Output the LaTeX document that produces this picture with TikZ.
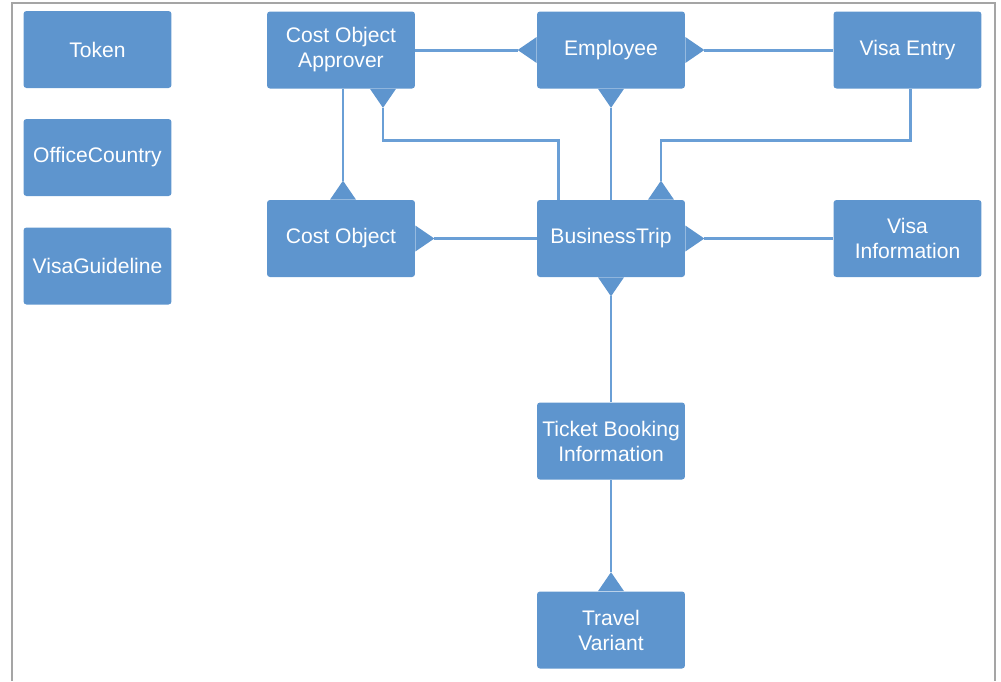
\documentclass[tikz,border=0pt]{standalone}
\usepackage{fontspec}
\setmainfont{Liberation Sans}
\usetikzlibrary{arrows.meta}
\definecolor{boxblue}{RGB}{94,149,206}
\definecolor{lineblue}{RGB}{106,159,214}
\definecolor{framegray}{RGB}{165,165,165}
\tikzset{
  entity/.style={fill=boxblue, text=white, rounded corners=1.7pt, minimum width=2.96cm,
    minimum height=1.54cm, align=center, inner sep=0pt,
    font=\fontsize{12}{14.2}\selectfont},
  link/.style={draw=lineblue, line width=1.7pt},
  one/.tip={Triangle[reversed, width=0.52cm, length=0.38cm, line width=0pt, fill=boxblue, color=boxblue]}
}
\begin{document}
\begin{tikzpicture}[x=0.02cm, y=-0.02cm]
  \useasboundingbox (0,0) rectangle (1001,681);
  % frame
  \draw[framegray, line width=1.1pt] (12,681) -- (12,3) -- (995,3) -- (995,681);

  % loose tables
  \node[entity] (token)  at (97.5,49.5)  {Token};
  \node[entity] (office) at (97.5,157.5) {OfficeCountry};
  \node[entity] (guide)  at (97.5,266)   {VisaGuideline};

  % top row
  \node[entity] (approver)  at (341,50)   {Cost Object\\Approver};
  \node[entity] (emp)       at (611,50)   {Employee};
  \node[entity] (visaentry) at (907.5,50) {Visa Entry};

  % middle row
  \node[entity] (costobj)  at (341,238.5)   {Cost Object};
  \node[entity] (trip)     at (611,238.5)   {BusinessTrip};
  \node[entity] (visainfo) at (907.5,238.5) {Visa\\Information};

  % bottom column
  \node[entity] (ticket)  at (611,441) {Ticket Booking\\Information};
  \node[entity] (variant) at (611,630) {Travel\\Variant};

  % approver--employee--visa entry
  \draw[link, -one] (approver.east) -- (emp.west);
  \draw[link, one-] (emp.east) -- (visaentry.west);

  % employee--trip, approver--trip
  \draw[link, one-] (emp.south) -- (trip.north);
  \draw[link, one-] ([xshift=0.84cm]approver.south) -- ++(0,52) -| ([xshift=-1.06cm]trip.north);

  % approver--cost object
  \draw[link, -one] ([xshift=0.04cm]approver.south) -- ([xshift=0.04cm]costobj.north);

  % cost object--trip--visa information
  \draw[link, one-] (costobj.east) -- (trip.west);
  \draw[link, one-] (trip.east) -- (visainfo.west);

  % visa entry--trip
  \draw[link, -one] ([xshift=0.05cm]visaentry.south) -- ++(0,52) -| ([xshift=1cm]trip.north);

  % trip--ticket--variant
  \draw[link, one-] (trip.south) -- (ticket.north);
  \draw[link, -one] (ticket.south) -- (variant.north);
\end{tikzpicture}
\end{document}
